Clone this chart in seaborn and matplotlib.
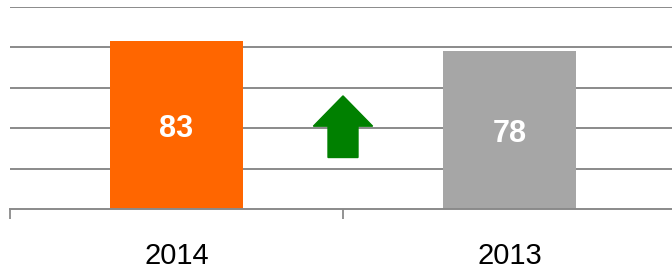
import matplotlib
matplotlib.use("Agg")
import matplotlib.pyplot as plt
import seaborn as sns
import pandas as pd

# Chart data
years = ["2014", "2013"]
scores = [83, 78]
bar_colors = ["#FF6600", "#A6A6A6"]

# Change arrow between the two bars (from, to in data units)
arrow_from = 25.5
arrow_to = 56

sns.set_style("white")
plt.rcParams["font.family"] = ["Liberation Sans", "DejaVu Sans"]

df = pd.DataFrame({"Year": years, "Score": scores})

fig = plt.figure(figsize=(6.72, 2.70), dpi=100)
ax = fig.add_axes([10 / 672, 1 - 209 / 270, 666 / 672, 202 / 270])

sns.barplot(data=df, x="Year", y="Score", hue="Year", palette=bar_colors,
            width=0.4, legend=False, saturation=1, linewidth=0, ax=ax, zorder=3)

# Value labels inside bars
for i, v in enumerate(scores):
    ax.text(i, v / 2, str(v), ha="center", va="center_baseline", color="white",
            fontsize=22, fontweight="bold", zorder=4)

# Green up arrow between bars
ax.arrow(0.5, arrow_from, 0, arrow_to - arrow_from, width=0.09,
         head_width=0.178, head_length=15, length_includes_head=True,
         color="#008000", zorder=4)

ax.set_ylim(0, 100)
ax.set_xlim(-0.5, 1.5)
ax.set_yticks([20, 40, 60, 80, 100])
ax.yaxis.grid(True, color="#8a8a8a", linewidth=1.4)
ax.set_axisbelow(True)
ax.tick_params(axis="y", left=False, labelleft=False)

# Category ticks at boundaries, labels centered under bars
ax.set_xticks([-0.5, 0.5, 1.5])
ax.set_xticklabels(["", "", ""])
ax.set_xticks([0, 1], minor=True)
ax.set_xticklabels(years, minor=True, fontsize=21, color="black")
ax.tick_params(axis="x", which="major", length=7, width=1.3, color="#8a8a8a", bottom=True)
ax.tick_params(axis="x", which="minor", length=0, pad=24)
ax.set_xlabel("")
ax.set_ylabel("")

for side in ["left", "top", "right"]:
    ax.spines[side].set_visible(False)
ax.spines["bottom"].set_color("#8a8a8a")
ax.spines["bottom"].set_linewidth(1.4)
ax.spines["bottom"].set_zorder(5)

fig.savefig("out.png", dpi=100)
plt.close(fig)
